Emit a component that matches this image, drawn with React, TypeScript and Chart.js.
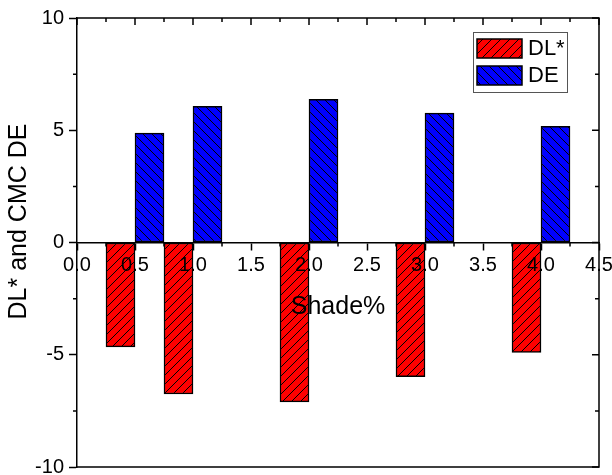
import { useEffect, useRef } from "react";
import { Chart, registerables } from "chart.js";

Chart.register(...registerables);

// ---- data ----
const shadePercent = [0.5, 1.0, 2.0, 3.0, 4.0];
const dlStar = [-4.65, -6.75, -7.1, -5.98, -4.9];
const cmcDE = [4.87, 6.07, 6.38, 5.76, 5.18];
const seriesLabels = ["DL*", "DE"];
const xTitle = "Shade%";
const yTitle = "DL* and CMC DE";
const xTickMin = 0;
const xTickMax = 4.5;
const xTickStep = 0.5;
const yTickMin = -10;
const yTickMax = 10;
const yTickStep = 5;

const FONT = "'Liberation Sans', Arial, Helvetica, sans-serif";

function makeHatch(ctx: CanvasRenderingContext2D, color: string, dir: "/" | "\\") {
  const s = 9;
  const c = document.createElement("canvas");
  c.width = s;
  c.height = s;
  const g = c.getContext("2d")!;
  g.fillStyle = color;
  g.fillRect(0, 0, s, s);
  g.strokeStyle = "#000";
  g.lineWidth = 1;
  g.beginPath();
  if (dir === "/") {
    g.moveTo(-1, s + 1);
    g.lineTo(s + 1, -1);
    g.moveTo(-1, 1);
    g.lineTo(1, -1);
    g.moveTo(s - 1, s + 1);
    g.lineTo(s + 1, s - 1);
  } else {
    g.moveTo(-1, -1);
    g.lineTo(s + 1, s + 1);
    g.moveTo(s - 1, -1);
    g.lineTo(s + 1, 1);
    g.moveTo(-1, s - 1);
    g.lineTo(1, s + 1);
  }
  g.stroke();
  return ctx.createPattern(c, "repeat")!;
}

const isMajor = (v: number, step: number) => Math.abs(v / step - Math.round(v / step)) < 1e-6;

const framePlugin = {
  id: "frameAndExtras",
  beforeDatasetsDraw(chart: any) {
    const { ctx, chartArea: ca, scales } = chart;
    const x = scales.x;
    const y = scales.y;
    ctx.save();
    ctx.strokeStyle = "#000";
    ctx.lineWidth = 1.5;
    ctx.beginPath();
    ctx.moveTo(ca.left, ca.top);
    ctx.lineTo(ca.right, ca.top);
    ctx.lineTo(ca.right, ca.bottom);
    ctx.lineTo(ca.left, ca.bottom);
    ctx.stroke();
    ctx.beginPath();
    const y0 = y.getPixelForValue(0);
    for (let i = 0; xTickMin + (i * xTickStep) / 2 <= xTickMax + 1e-9; i++) {
      const v = xTickMin + (i * xTickStep) / 2;
      const px = x.getPixelForValue(v);
      const major = isMajor(v, xTickStep);
      ctx.moveTo(px, ca.top);
      ctx.lineTo(px, ca.top + (major ? 7 : 4));
      if (!major) {
        ctx.moveTo(px, y0);
        ctx.lineTo(px, y0 + 4);
      }
    }
    for (let i = 0; yTickMin + (i * yTickStep) / 2 <= yTickMax + 1e-9; i++) {
      const v = yTickMin + (i * yTickStep) / 2;
      const py = y.getPixelForValue(v);
      const major = isMajor(v, yTickStep);
      ctx.moveTo(ca.right, py);
      ctx.lineTo(ca.right - (major ? 7 : 4), py);
      if (!major) {
        ctx.moveTo(ca.left, py);
        ctx.lineTo(ca.left - 4, py);
      }
    }
    ctx.stroke();
    ctx.restore();
  },
  afterDraw(chart: any) {
    const { ctx, chartArea: ca, scales } = chart;
    const y = scales.y;
    ctx.save();
    ctx.fillStyle = "#000";
    // axis titles
    ctx.font = `25px ${FONT}`;
    ctx.textAlign = "center";
    ctx.textBaseline = "alphabetic";
    ctx.fillText(xTitle, (ca.left + ca.right) / 2, y.getPixelForValue(0) + 71);
    ctx.save();
    ctx.translate(26, (ca.top + ca.bottom) / 2 - 21);
    ctx.rotate(-Math.PI / 2);
    ctx.textBaseline = "alphabetic";
    ctx.fillText(yTitle, 0, 0);
    ctx.restore();
    // legend
    const lx = ca.right - 126;
    const ly = ca.top + 14;
    ctx.strokeStyle = "#555";
    ctx.lineWidth = 1;
    ctx.fillStyle = "#fff";
    ctx.fillRect(lx, ly, 94, 60);
    ctx.strokeRect(lx + 0.5, ly + 0.5, 94, 60);
    chart.data.datasets.forEach((ds: any, i: number) => {
      const by = ly + 7 + i * 27;
      ctx.fillStyle = ds.backgroundColor;
      ctx.fillRect(lx + 4, by, 45, 19);
      ctx.strokeStyle = "#000";
      ctx.lineWidth = 1.5;
      ctx.strokeRect(lx + 4, by, 45, 19);
      ctx.fillStyle = "#000";
      ctx.font = `22px ${FONT}`;
      ctx.textAlign = "left";
      ctx.textBaseline = "middle";
      ctx.fillText(ds.label, lx + 55, by + 10);
    });
    ctx.restore();
  },
};

export default function App() {
  const ref = useRef<HTMLCanvasElement | null>(null);
  useEffect(() => {
    const canvas = ref.current!;
    const ctx = canvas.getContext("2d")!;
    const redHatch = makeHatch(ctx, "#ff0000", "/");
    const blueHatch = makeHatch(ctx, "#0000ff", "\\");
    const chart = new Chart(canvas, {
      type: "bar",
      data: {
        datasets: [
          {
            label: seriesLabels[0],
            data: shadePercent.map((x, i) => ({ x, y: dlStar[i] })),
            backgroundColor: redHatch as any,
            borderColor: "#000",
            borderWidth: 1.5,
            borderSkipped: false,
            categoryPercentage: 1,
            barPercentage: 1,
          },
          {
            label: seriesLabels[1],
            data: shadePercent.map((x, i) => ({ x, y: cmcDE[i] })),
            backgroundColor: blueHatch as any,
            borderColor: "#000",
            borderWidth: 1.5,
            borderSkipped: false,
            categoryPercentage: 1,
            barPercentage: 1,
          },
        ],
      },
      options: {
        responsive: false,
        animation: false,
        layout: { padding: { left: 0, top: 18, right: 13, bottom: 8 } },
        plugins: { legend: { display: false }, tooltip: { enabled: false } },
        scales: {
          x: {
            type: "linear",
            position: { y: 0 } as any,
            min: xTickMin,
            max: xTickMax,
            offset: false,
            ticks: {
              z: 1,
              stepSize: xTickStep,
              color: "#000",
              font: { family: FONT, size: 20 },
              padding: 4,
              maxRotation: 0,
              autoSkip: false,
              callback: (v: any) => Number(v).toFixed(1),
            },
            grid: {
              drawOnChartArea: false,
              drawTicks: true,
              tickLength: 7,
              tickColor: "#000",
              tickWidth: 1.5,
              offset: false,
            },
            border: { color: "#000", width: 1.5 },
            afterFit: (scale: any) => {
              scale.paddingLeft = 0;
              scale.paddingRight = 0;
            },
          } as any,
          y: {
            type: "linear",
            min: yTickMin,
            max: yTickMax,
            ticks: {
              stepSize: yTickStep,
              color: "#000",
              font: { family: FONT, size: 20 },
              padding: 5,
            },
            grid: {
              drawOnChartArea: false,
              drawTicks: true,
              tickLength: 8,
              tickColor: "#000",
              tickWidth: 1.5,
            },
            border: { color: "#000", width: 1.5 },
            afterFit: (scale: any) => {
              scale.width = 77;
              scale.paddingTop = 0;
              scale.paddingBottom = 0;
            },
          },
        },
      },
      plugins: [framePlugin],
    });
    return () => chart.destroy();
  }, []);
  return (
    <div style={{ position: "fixed", left: 0, top: 0, width: 612, height: 475, background: "#fff" }}>
      <canvas ref={ref} width={612} height={475} style={{ display: "block" }} />
    </div>
  );
}
